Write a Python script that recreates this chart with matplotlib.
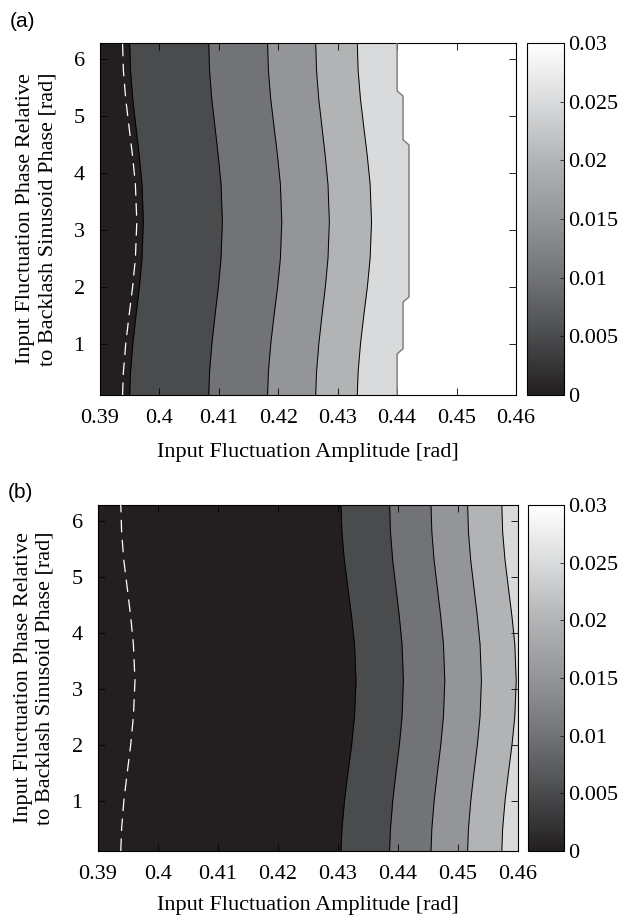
"""
Two contour maps of output fluctuation over input fluctuation amplitude
and phase, redrawn from the published figure.
"""

import matplotlib

matplotlib.use("Agg")

import matplotlib.pyplot as plt
import numpy as np
from matplotlib.cm import ScalarMappable
from matplotlib.colors import LinearSegmentedColormap, Normalize

plt.rcParams.update(
    {
        "font.family": "serif",
        "font.serif": ["Liberation Serif", "DejaVu Serif"],
        "font.size": 16,
        "axes.linewidth": 0.8,
    }
)

# ---- axes ------------------------------------------------------------------
AMP_LIM = (0.39, 0.46)
PHASE_LIM = (0.098, 6.283)
AMP_TICKS = [0.39, 0.40, 0.41, 0.42, 0.43, 0.44, 0.45, 0.46]
AMP_TICK_LABELS = ["0.39", "0.4", "0.41", "0.42", "0.43", "0.44", "0.45", "0.46"]
PHASE_TICKS = [1, 2, 3, 4, 5, 6]

LEVELS = [0, 0.005, 0.01, 0.015, 0.02, 0.025, 0.03]
LEVEL_LABELS = ["0", "0.005", "0.01", "0.015", "0.02", "0.025", "0.03"]
BAND_COLORS = ["#231f20", "#4a4b4d", "#727376", "#939598", "#b1b3b5", "#d9dadb", "#ffffff"]

# ---- contour edges (amplitude at each phase) ------------------------------
PHASE = [0.098, 0.5, 1.0, 1.5, 2.0, 2.5, 3.14, 3.8, 4.3, 4.8, 5.3, 5.8, 6.283]

# panel (a): edges at 0.005, 0.01, 0.015, 0.02, 0.025
A_EDGES = [
    [0.39500, 0.39514, 0.39553, 0.39606, 0.39663, 0.39707, 0.39730, 0.39707, 0.39661, 0.39606, 0.39551, 0.39514, 0.39500],
    [0.40830, 0.40844, 0.40883, 0.40936, 0.40993, 0.41037, 0.41060, 0.41037, 0.40991, 0.40936, 0.40881, 0.40844, 0.40830],
    [0.41820, 0.41834, 0.41874, 0.41930, 0.41990, 0.42036, 0.42060, 0.42036, 0.41988, 0.41930, 0.41873, 0.41834, 0.41820],
    [0.42630, 0.42644, 0.42683, 0.42736, 0.42793, 0.42837, 0.42860, 0.42837, 0.42791, 0.42736, 0.42681, 0.42644, 0.42630],
    [0.43330, 0.43344, 0.43384, 0.43440, 0.43500, 0.43546, 0.43570, 0.43546, 0.43498, 0.43440, 0.43383, 0.43344, 0.43330],
]
# panel (a): jagged edge of the 0.03 (white) region
A_WHITE_PHASE = [0.098, 0.82, 0.91, 1.73, 1.82, 4.49, 4.58, 5.35, 5.44, 6.283]
A_WHITE_AMP = [0.440, 0.440, 0.441, 0.441, 0.442, 0.442, 0.441, 0.441, 0.440, 0.440]
A_DASH = [0.39380, 0.39394, 0.39434, 0.39490, 0.39550, 0.39596, 0.39620, 0.39596, 0.39548, 0.39490, 0.39433, 0.39394, 0.39380]

# panel (b): edges at 0.005, 0.01, 0.015, 0.02, 0.025
B_EDGES = [
    [0.43050, 0.43065, 0.43108, 0.43165, 0.43228, 0.43275, 0.43300, 0.43275, 0.43225, 0.43165, 0.43105, 0.43065, 0.43050],
    [0.43860, 0.43874, 0.43913, 0.43966, 0.44023, 0.44067, 0.44090, 0.44067, 0.44021, 0.43966, 0.43911, 0.43874, 0.43860],
    [0.44550, 0.44564, 0.44603, 0.44656, 0.44713, 0.44757, 0.44780, 0.44757, 0.44711, 0.44656, 0.44601, 0.44564, 0.44550],
    [0.45160, 0.45174, 0.45213, 0.45266, 0.45323, 0.45367, 0.45390, 0.45367, 0.45321, 0.45266, 0.45211, 0.45174, 0.45160],
    [0.45730, 0.45744, 0.45784, 0.45840, 0.45900, 0.45946, 0.45970, 0.45946, 0.45898, 0.45840, 0.45783, 0.45744, 0.45730],
]
B_DASH = [0.39380, 0.39394, 0.39432, 0.39488, 0.39546, 0.39590, 0.39617, 0.39590, 0.39544, 0.39488, 0.39430, 0.39394, 0.39380]

YLABEL = "Input Fluctuation Phase Relative\nto Backlash Sinusoid Phase [rad]"
XLABEL = "Input Fluctuation Amplitude [rad]"

CMAP = LinearSegmentedColormap.from_list(
    "scan_gray", list(zip(np.linspace(0, 1, len(BAND_COLORS)), BAND_COLORS))
)
NORM = Normalize(vmin=LEVELS[0], vmax=LEVELS[-1])


def draw_panel(fig, ax, cax, edges, dash, white=None, xlabel_y=-0.135):
    ax.set_facecolor(BAND_COLORS[0])

    # paint bands from left to right, each one overwriting the rest of the row
    edge_sets = [(PHASE, e) for e in edges]
    if white is not None:
        edge_sets.append(white)
    for k, (ph, amp) in enumerate(edge_sets):
        ax.fill_betweenx(ph, amp, AMP_LIM[1], color=BAND_COLORS[k + 1], lw=0, zorder=1)

    for ph, amp in edge_sets[:len(edges)]:
        ax.plot(amp, ph, color="black", lw=0.7, zorder=3)
    if white is not None:
        ax.plot(white[1], white[0], color="#7a7a7a", lw=1.0, zorder=3)

    ax.plot(dash, PHASE, color="white", lw=0.9, dashes=(10, 6), zorder=4)

    ax.set_xlim(*AMP_LIM)
    ax.set_ylim(*PHASE_LIM)
    ax.set_xticks(AMP_TICKS)
    ax.set_xticklabels(AMP_TICK_LABELS)
    ax.set_yticks(PHASE_TICKS)
    ax.tick_params(direction="in", top=True, right=True, length=5, width=0.6)
    ax.tick_params(axis="x", pad=10)
    ax.tick_params(axis="y", pad=11)
    ax.set_xlabel(XLABEL)
    ax.xaxis.set_label_coords(0.5, xlabel_y)
    ax.set_ylabel(YLABEL, linespacing=1.2)
    ax.yaxis.set_label_coords(-0.103, 0.5)

    cb = fig.colorbar(ScalarMappable(norm=NORM, cmap=CMAP), cax=cax, ticks=LEVELS)
    cb.ax.set_yticklabels(LEVEL_LABELS)
    cb.ax.tick_params(direction="in", length=3, width=0.5, pad=3)
    cb.outline.set_linewidth(0.8)


fig = plt.figure(figsize=(6.26, 9.17), dpi=100)

ax_a = fig.add_axes([0.1597, 0.5693, 0.6645, 0.3839])
cax_a = fig.add_axes([0.8419, 0.5693, 0.0591, 0.3839])
draw_panel(fig, ax_a, cax_a, A_EDGES, A_DASH, white=(A_WHITE_PHASE, A_WHITE_AMP), xlabel_y=-0.137)

ax_b = fig.add_axes([0.1565, 0.0720, 0.6710, 0.3773])
cax_b = fig.add_axes([0.8430, 0.0720, 0.0585, 0.3773])
draw_panel(fig, ax_b, cax_b, B_EDGES, B_DASH, xlabel_y=-0.131)

fig.text(0.016, 0.977, "(a)", family="Liberation Sans", fontsize=15, va="center")
fig.text(0.013, 0.4624, "(b)", family="Liberation Sans", fontsize=15, va="center")

fig.savefig("out.png", dpi=100)
plt.close(fig)
